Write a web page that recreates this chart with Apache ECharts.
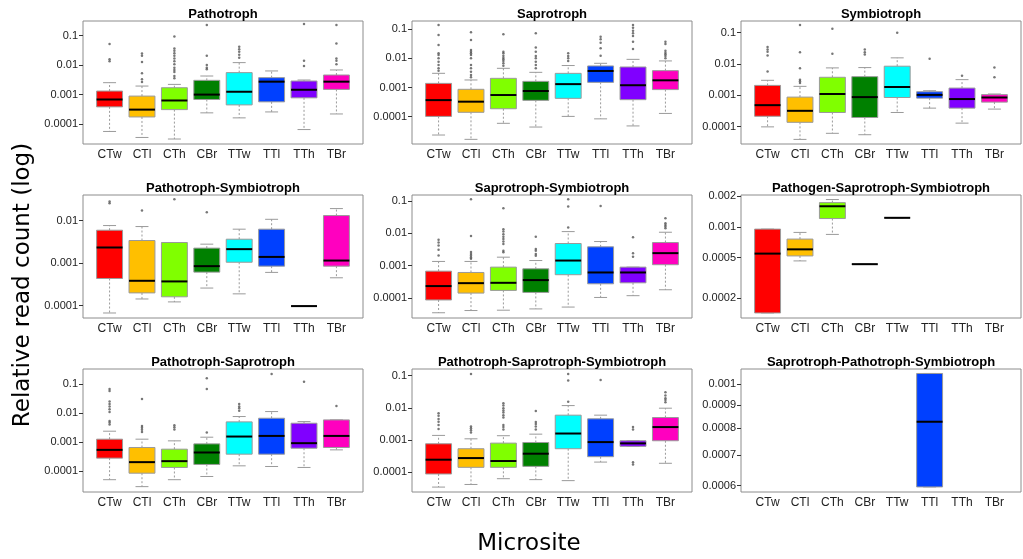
<!DOCTYPE html>
<html>
<head>
<meta charset="utf-8">
<title>Relative read count by microsite</title>
<script src="https://cdn.jsdelivr.net/npm/echarts@6/dist/echarts.min.js"></script>
<style>
html, body { margin: 0; padding: 0; background: #fff; }
#main { width: 1023px; height: 559px; }
</style>
</head>
<body>
<div id="main"></div>
<script>
var sites = ['CTw', 'CTl', 'CTh', 'CBr', 'TTw', 'TTl', 'TTh', 'TBr'];
var siteColors = ['#ff0000', '#ffbf00', '#80ff00', '#008000', '#00ffff', '#0040ff', '#8000ff', '#ff00bf'];

// tick values of the y axes
var decadeTicks = [0.0001, 0.001, 0.01, 0.1];
var pssTicks = [0.0002, 0.0005, 0.001, 0.002];
var sppsTicks = [0.0006, 0.0007, 0.0008, 0.0009, 0.001];

// [lower whisker, Q1, median, Q3, upper whisker] per microsite, null = no data
var pathotroph = [
	[5.6e-5, 0.000383, 0.000682, 0.00132, 0.00254],
	[3.5e-5, 0.000174, 0.000309, 0.00089, 0.00195],
	[3.1e-5, 0.000309, 0.000631, 0.00171, 0.00222],
	[0.00024, 0.000682, 0.001, 0.00305, 0.00428],
	[0.000162, 0.000447, 0.00125, 0.00557, 0.0122],
	[0.000258, 0.000567, 0.00275, 0.00376, 0.00636],
	[6.5e-5, 0.000776, 0.00146, 0.00289, 0.00313],
	[0.00022, 0.0015, 0.00275, 0.00463, 0.00687]
];
var pathotrophOut = [
	[0.0519, 0.0159, 0.0136],
	[0.0249, 0.0207, 0.0129, 0.00528, 0.0033, 0.00267],
	[0.0949, 0.0369, 0.0307, 0.0255, 0.0207, 0.0168, 0.0136, 0.0107, 0.0082, 0.0069, 0.0059, 0.0043, 0.0036],
	[0.232, 0.0207, 0.0102, 0.0082, 0.0072],
	[0.042, 0.035, 0.0284, 0.0224, 0.018],
	[],
	[0.25, 0.014, 0.0094],
	[0.23, 0.0547, 0.0168, 0.014, 0.0107]
];

var saprotroph = [
	[2.34e-5, 0.000102, 0.00037, 0.00139, 0.00308],
	[1.66e-5, 0.000141, 0.000327, 0.00087, 0.00182],
	[5.9e-5, 0.000187, 0.000553, 0.00207, 0.00457],
	[4.4e-5, 0.000363, 0.00076, 0.00163, 0.00333],
	[0.000102, 0.000426, 0.00131, 0.00307, 0.0057],
	[8.4e-5, 0.00151, 0.00371, 0.00551, 0.0068],
	[4.8e-5, 0.000383, 0.0012, 0.00508, 0.0093],
	[0.000129, 0.00085, 0.00177, 0.0038, 0.0082]
];
var saprotrophOut = [
	[0.141, 0.0638, 0.029, 0.015, 0.0131, 0.0101, 0.0077, 0.0059, 0.00457, 0.0038],
	[0.0789, 0.043, 0.0195, 0.0171, 0.015, 0.0131, 0.0101, 0.0059, 0.00457, 0.00352, 0.0027, 0.00225],
	[0.0673, 0.0171, 0.015, 0.0124, 0.0106, 0.0093, 0.0082, 0.0068, 0.0056],
	[0.0729, 0.0235, 0.0171, 0.0121, 0.0101, 0.0077, 0.0059, 0.00457],
	[0.015, 0.0121, 0.0101, 0.0082],
	[0.056, 0.0454, 0.0348, 0.0222, 0.0124],
	[0.141, 0.114, 0.09, 0.0729, 0.059, 0.0377, 0.0211],
	[0.0377, 0.0313, 0.0185, 0.0158, 0.0138, 0.0121, 0.0101]
];

var symbiotroph = [
	[9.8e-5, 0.000214, 0.000484, 0.00207, 0.00301],
	[3.9e-5, 0.000137, 0.000319, 0.000875, 0.00193],
	[6.1e-5, 0.000282, 0.0011, 0.00376, 0.0075],
	[5.5e-5, 0.000195, 0.000875, 0.00394, 0.00767],
	[0.000282, 0.00085, 0.00184, 0.0085, 0.0157],
	[0.000389, 0.00081, 0.00103, 0.0013, 0.0014],
	[0.000129, 0.000389, 0.000758, 0.0017, 0.00316],
	[0.000362, 0.000605, 0.00085, 0.00105, 0.0011]
];
var symbiotrophOut = [
	[0.0346, 0.0291, 0.0245, 0.0187, 0.0058],
	[0.176, 0.0239, 0.0073, 0.00316, 0.0028, 0.00247],
	[0.134, 0.0211],
	[0.0291, 0.0239, 0.0201],
	[0.1],
	[0.0146],
	[0.0042],
	[0.0077, 0.0038]
];

var pathoSymbio = [
	[6.75e-5, 0.000436, 0.00233, 0.00593, 0.00763],
	[0.000144, 0.0002, 0.000385, 0.0034, 0.00723],
	[0.000123, 0.000162, 0.000372, 0.00305, 0.00305],
	[0.00026, 0.000615, 0.00085, 0.00225, 0.00279],
	[0.00019, 0.00105, 0.00213, 0.00365, 0.00627],
	[0.000606, 0.00085, 0.0014, 0.00627, 0.0107],
	[9.8e-5, 9.8e-5, 9.8e-5, 9.8e-5, 9.8e-5],
	[0.000453, 0.00085, 0.00115, 0.0131, 0.0191]
];
var pathoSymbioOut = [
	[0.0279, 0.0255],
	[0.0172],
	[0.0316],
	[0.0157],
	[], [], [], []
];

var saproSymbio = [
	[3.5e-5, 8.7e-5, 0.000234, 0.000676, 0.00135],
	[4.1e-5, 0.000142, 0.000288, 0.000616, 0.00135],
	[4.2e-5, 0.000172, 0.000295, 0.000901, 0.00183],
	[4.6e-5, 0.000149, 0.000358, 0.0008, 0.00144],
	[5.25e-5, 0.000525, 0.00144, 0.00484, 0.0113],
	[0.000104, 0.000275, 0.000616, 0.00382, 0.00557],
	[0.000118, 0.000295, 0.000616, 0.000901, 0.000901],
	[0.00018, 0.00107, 0.00244, 0.00519, 0.0108]
];
var saproSymbioOut = [
	[0.00628, 0.00519, 0.00418, 0.00309, 0.00206],
	[0.113, 0.0083, 0.00263, 0.00228, 0.00202, 0.0018, 0.00164],
	[0.0594, 0.0134, 0.0113, 0.0094, 0.0079, 0.0067, 0.0056, 0.0047, 0.0029, 0.0026],
	[0.0079, 0.0033, 0.0029, 0.00228, 0.00202],
	[0.113, 0.0669, 0.015],
	[0.0701],
	[0.0076, 0.0024, 0.0019],
	[0.0292, 0.0205, 0.0182, 0.0162, 0.0143]
];

var pathogenSaproSymbio = [
	[0.000143, 0.000143, 0.000546, 0.000949, 0.000949],
	[0.000463, 0.000518, 0.000601, 0.000758, 0.000881],
	[0.000842, 0.001205, 0.00159, 0.001726, 0.00185],
	[0.00043, 0.00043, 0.00043, 0.00043, 0.00043],
	[0.001225, 0.001225, 0.001225, 0.001225, 0.001225],
	null, null, null
];

var pathoSapro = [
	[5.2e-5, 0.000287, 0.000553, 0.00129, 0.00243],
	[3.0e-5, 8.7e-5, 0.000209, 0.000667, 0.00129],
	[5.2e-5, 0.000137, 0.000226, 0.000584, 0.00113],
	[6.7e-5, 0.000174, 0.000449, 0.00089, 0.00151],
	[0.000156, 0.000393, 0.00159, 0.00508, 0.00776],
	[0.000148, 0.000393, 0.00167, 0.00679, 0.0115],
	[0.000137, 0.00063, 0.00094, 0.00457, 0.00521],
	[0.000553, 0.000667, 0.00167, 0.00594, 0.00594]
];
var pathoSaproOut = [
	[0.069, 0.059, 0.0254, 0.0211, 0.0171, 0.0138, 0.0112, 0.0055, 0.0048, 0.0041],
	[0.0313, 0.0037, 0.0032, 0.0027, 0.0023],
	[0.0039, 0.0033, 0.0028],
	[0.161, 0.069, 0.0022],
	[0.0211, 0.0171, 0.015, 0.0124],
	[0.226],
	[0.123],
	[0.018]
];

var pathoSaproSymbio = [
	[3.4e-5, 8.7e-5, 0.000242, 0.000758, 0.00138],
	[4.1e-5, 0.00014, 0.000272, 0.000531, 0.00108],
	[6.2e-5, 0.00014, 0.00022, 0.000794, 0.00135],
	[5.8e-5, 0.00015, 0.000372, 0.00083, 0.00151],
	[5.4e-5, 0.000531, 0.00158, 0.00589, 0.0117],
	[0.000204, 0.0003, 0.000855, 0.00453, 0.00589],
	[0.00063, 0.00063, 0.00078, 0.00094, 0.00094],
	[0.000187, 0.00094, 0.00251, 0.00498, 0.0097]
];
var pathoSaproSymbioOut = [
	[0.0068, 0.0056, 0.0045, 0.0037, 0.0029, 0.0022],
	[0.113, 0.0026, 0.0023, 0.002, 0.0017],
	[0.0139, 0.0117, 0.0097, 0.0082, 0.0071, 0.0059, 0.005, 0.0029, 0.0025, 0.0021],
	[0.008, 0.0036, 0.0031, 0.0026, 0.0021],
	[0.113, 0.07, 0.0153],
	[0.0734],
	[0.0025, 0.0021, 0.0002, 0.000171],
	[0.0304, 0.024, 0.0198, 0.0176, 0.0149]
];

var saproPathoSymbio = [
	null, null, null, null, null,
	[0.000596, 0.000596, 0.000827, 0.001054, 0.001054],
	null, null
];

var panels = [
	{ name: 'Pathotroph', stats: pathotroph, out: pathotrophOut, min: 2.1e-5, max: 0.316, ticks: decadeTicks },
	{ name: 'Saprotroph', stats: saprotroph, out: saprotrophOut, min: 1.15e-5, max: 0.193, ticks: decadeTicks },
	{ name: 'Symbiotroph', stats: symbiotroph, out: symbiotrophOut, min: 2.78e-5, max: 0.236, ticks: decadeTicks },
	{ name: 'Pathotroph-Symbiotroph', stats: pathoSymbio, out: pathoSymbioOut, min: 5.15e-5, max: 0.0398, ticks: decadeTicks },
	{ name: 'Saprotroph-Symbiotroph', stats: saproSymbio, out: saproSymbioOut, min: 2.41e-5, max: 0.153, ticks: decadeTicks },
	{ name: 'Pathogen-Saprotroph-Symbiotroph', stats: pathogenSaproSymbio, out: [], min: 1.276e-4, max: 0.00205, ticks: pssTicks },
	{ name: 'Pathotroph-Saprotroph', stats: pathoSapro, out: pathoSaproOut, min: 1.96e-5, max: 0.336, ticks: decadeTicks },
	{ name: 'Pathotroph-Saprotroph-Symbiotroph', stats: pathoSaproSymbio, out: pathoSaproSymbioOut, min: 2.39e-5, max: 0.161, ticks: decadeTicks },
	{ name: 'Saprotroph-Pathotroph-Symbiotroph', stats: saproPathoSymbio, out: [], min: 0.000581, max: 0.001078, ticks: sppsTicks }
];

var colLeft = [83, 412, 741];
var rowTop = [21, 195, 369];
var gridW = 280, gridH = 123;
var greyLine = '#9a9a9a';

// one R-style box: dashed whiskers, solid staples, grey outline, black median
function drawBox(params, api) {
	var x = api.value(0);
	var lo = api.coord([x, api.value(1)]);
	var q1 = api.coord([x, api.value(2)]);
	var md = api.coord([x, api.value(3)]);
	var q3 = api.coord([x, api.value(4)]);
	var hi = api.coord([x, api.value(5)]);
	var bl = api.coord([x - 0.4, api.value(3)])[0];
	var br = api.coord([x + 0.4, api.value(3)])[0];
	var cl = api.coord([x - 0.2, api.value(3)])[0];
	var cr = api.coord([x + 0.2, api.value(3)])[0];
	var cx = md[0];
	var dash = { stroke: greyLine, lineWidth: 1, lineDash: [2, 2] };
	var solid = { stroke: greyLine, lineWidth: 1 };
	return {
		type: 'group',
		children: [
			{ type: 'line', shape: { x1: cx, y1: q3[1], x2: cx, y2: hi[1] }, style: dash },
			{ type: 'line', shape: { x1: cx, y1: q1[1], x2: cx, y2: lo[1] }, style: dash },
			{ type: 'line', shape: { x1: cl, y1: hi[1], x2: cr, y2: hi[1] }, style: solid },
			{ type: 'line', shape: { x1: cl, y1: lo[1], x2: cr, y2: lo[1] }, style: solid },
			{ type: 'rect', shape: { x: bl, y: q3[1], width: br - bl, height: q1[1] - q3[1] },
				style: { fill: siteColors[api.value(6)], stroke: greyLine, lineWidth: 1 } },
			{ type: 'line', shape: { x1: bl, y1: md[1], x2: br, y2: md[1] }, style: { stroke: '#000', lineWidth: 2 } }
		]
	};
}

var grids = [], xAxes = [], yAxes = [], titles = [], series = [];

panels.forEach(function(p, i) {
	var left = colLeft[i % 3];
	var top = rowTop[Math.floor(i / 3)];
	grids.push({
		left: left, top: top, width: gridW, height: gridH,
		show: true, borderColor: '#8c8c8c', borderWidth: 1, backgroundColor: '#fff',
		containLabel: false, outerBoundsMode: 'none'
	});
	titles.push({
		text: p.name, left: left + gridW / 2, top: top - 13, textAlign: 'center', padding: 0,
		textStyle: { fontFamily: 'Liberation Sans', fontWeight: 'bold', fontSize: 13, color: '#000' }
	});
	xAxes.push({
		type: 'value', gridIndex: i, min: 0.18, max: 8.82,
		axisLine: { show: false }, axisTick: { show: false }, splitLine: { show: false },
		axisLabel: {
			customValues: [1, 2, 3, 4, 5, 6, 7, 8], margin: 5,
			fontFamily: 'Liberation Sans', fontSize: 12, color: '#222',
			formatter: function(v) { return sites[Math.round(v) - 1]; }
		}
	});
	yAxes.push({
		type: 'log', logBase: 10, gridIndex: i, min: p.min, max: p.max,
		axisLine: { show: false }, splitLine: { show: false }, minorTick: { show: false },
		axisTick: { show: true, length: 4, customValues: p.ticks, lineStyle: { color: '#333' } },
		axisLabel: {
			customValues: p.ticks, margin: 5,
			fontFamily: 'Liberation Sans', fontSize: 11, color: '#222',
			formatter: function(v) { return String(+(+v).toPrecision(4)); }
		}
	});
	var boxData = [];
	p.stats.forEach(function(s, k) {
		if (s) boxData.push([k + 1, s[0], s[1], s[2], s[3], s[4], k]);
	});
	var outData = [];
	p.out.forEach(function(list, k) {
		list.forEach(function(v) { outData.push([k + 1, v]); });
	});
	series.push({
		type: 'custom', xAxisIndex: i, yAxisIndex: i,
		encode: { x: 0, y: [1, 2, 3, 4, 5] },
		renderItem: drawBox, data: boxData
	});
	series.push({
		type: 'scatter', xAxisIndex: i, yAxisIndex: i,
		symbol: 'circle', symbolSize: 2.5,
		itemStyle: { color: '#555' },
		data: outData
	});
});

var chart = echarts.init(document.getElementById('main'));
chart.setOption({
	animation: false,
	backgroundColor: '#fff',
	title: titles,
	grid: grids,
	xAxis: xAxes,
	yAxis: yAxes,
	series: series,
	graphic: [
		{ type: 'text', x: 23, y: 285, rotation: Math.PI / 2,
			style: { text: 'Relative read count (log)', font: '23px "DejaVu Sans"', fill: '#000', textAlign: 'center', textVerticalAlign: 'middle' } },
		{ type: 'text', x: 529, y: 544,
			style: { text: 'Microsite', font: '23px "DejaVu Sans"', fill: '#000', textAlign: 'center', textVerticalAlign: 'middle' } }
	]
});
</script>
</body>
</html>
